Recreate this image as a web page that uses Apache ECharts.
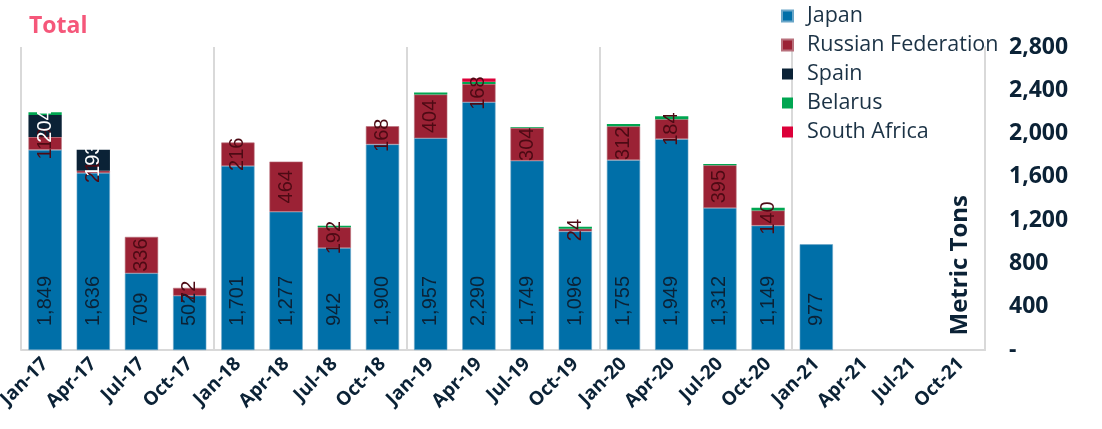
<!DOCTYPE html>
<html>
<head>
<meta charset="utf-8">
<script src="https://cdn.jsdelivr.net/npm/echarts@6/dist/echarts.min.js"></script>
<style>
html,body{margin:0;padding:0;background:#fff;}
#chart{width:1102px;height:429px;}
</style>
</head>
<body>
<div id="chart"></div>
<script>
const categories = ['Jan-17','Apr-17','Jul-17','Oct-17','Jan-18','Apr-18','Jul-18','Oct-18','Jan-19','Apr-19','Jul-19','Oct-19','Jan-20','Apr-20','Jul-20','Oct-20','Jan-21','Apr-21','Jul-21','Oct-21'];
const japan   = [1849,1636,709,502,1701,1277,942,1900,1957,2290,1749,1096,1755,1949,1312,1149,977,null,null,null];
const russia  = [119,21,336,72,216,464,192,168,404,168,304,24,312,184,395,140,null,null,null,null];
const spain   = [204,193,null,null,null,null,null,null,null,null,null,null,null,null,null,null,null,null,null,null];
const belarus = [24,null,null,null,null,null,15,null,18,22,8,18,22,28,12,25,null,null,null,null];
const southAfrica = [null,null,null,null,null,null,null,null,null,30,null,null,null,null,null,null,null,null,null,null];
const yTicks = [0,400,800,1200,1600,2000,2400,2800];
const yTickLabels = ['-','400','800','1,200','1,600','2,000','2,400','2,800'];

const navy = '#0b2236';
const fmt = v => v == null ? '' : Number(v).toLocaleString('en-US');
const chart = echarts.init(document.getElementById('chart'));
const barBase = {type:'bar', stack:'total', barCategoryGap:'31%'};
chart.setOption({
  animation:false,
  title:{text:'Total', left:24, top:10, textStyle:{color:'#f5577a', fontSize:23, fontWeight:'bold', fontFamily:'Open Sans'}},
  legend:{orient:'vertical', left:776, top:0, itemWidth:11, itemHeight:11, itemGap:7, icon:'rect',
    textStyle:{color:'#1b3245', fontSize:21.5, fontFamily:'Open Sans', lineHeight:21.5, padding:[0,0,0,9]},
    data:['Japan','Russian Federation','Spain','Belarus','South Africa']},
  grid:{left:21, right:117, top:47, bottom:79, containLabel:false, outerBoundsMode:'none'},
  xAxis:{type:'category', data:categories,
    axisLine:{show:true, lineStyle:{color:'#d9d9d9', width:2}},
    axisTick:{show:false},
    splitLine:{show:true, interval:(i)=> i%4===0, lineStyle:{color:'#d9d9d9', width:2}},
    axisLabel:{rotate:45, margin:11, interval:0, color:navy, fontSize:19, fontWeight:'bold', fontFamily:'Open Sans'}},
  yAxis:{type:'value', position:'right', min:0, max:2800, interval:400,
    axisLine:{show:true, lineStyle:{color:'#d9d9d9', width:2}},
    axisTick:{show:false}, splitLine:{show:false},
    axisLabel:{margin:24, align:'left', color:navy, fontSize:23, fontWeight:'bold', fontFamily:'Open Sans',
      formatter:(v)=> yTickLabels[yTicks.indexOf(v)] ?? String(v)}},
  graphic:[{type:'text', left:948, top:195, rotation:Math.PI/2,
    style:{text:'Metric Tons', fill:navy, fontSize:24, fontWeight:'bold', fontFamily:'Open Sans'}}],
  series:[
    Object.assign({}, barBase, {name:'Japan', data:japan, itemStyle:{color:'#006fa8', borderColor:'#6aa6c8', borderWidth:0.6},
      label:{show:true, position:'insideBottom', distance:24, rotate:90, align:'left', verticalAlign:'middle',
        color:'#0b2236', fontSize:20, fontFamily:'Liberation Sans', formatter:p=>fmt(p.value)}}),
    Object.assign({}, barBase, {name:'Russian Federation', data:russia, itemStyle:{color:'#9b2235', borderColor:'#b8707c', borderWidth:0.6},
      label:{show:true, position:'inside', rotate:90, color:'#4d0a14', fontSize:20, fontFamily:'Liberation Sans', formatter:p=>fmt(p.value)}}),
    Object.assign({}, barBase, {name:'Spain', data:spain, itemStyle:{color:'#0b2236'},
      label:{show:true, position:'inside', rotate:90, color:'#ffffff', fontSize:20, fontFamily:'Liberation Sans', formatter:p=>fmt(p.value)}}),
    Object.assign({}, barBase, {name:'Belarus', data:belarus, itemStyle:{color:'#00a651'}}),
    Object.assign({}, barBase, {name:'South Africa', data:southAfrica, itemStyle:{color:'#dc0039'}})
  ]
});
</script>
</body>
</html>
